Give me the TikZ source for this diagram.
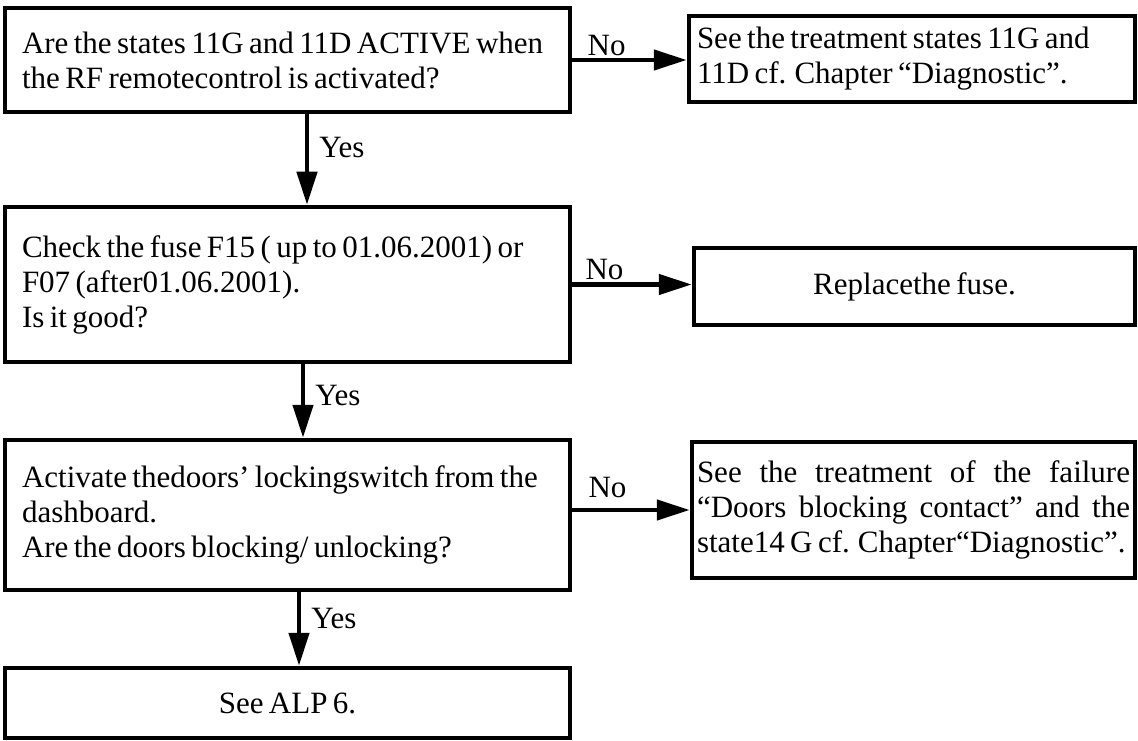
\documentclass[tikz,border=0pt]{standalone}
\usepackage{fontspec}
\setmainfont[WordSpace=0.7]{Liberation Serif}
\usepackage{tikz}
\usetikzlibrary{arrows.meta}

\tikzset{
  % keep the font's own (narrow) word space inside ragged boxes
  txt/.style={font=\fontsize{31}{35}\selectfont, execute at begin node={\spaceskip=0pt\xspaceskip=0pt}},
  qbox/.style={txt, draw, line width=4.5pt, inner xsep=17pt, text width=531pt, align=left},
  abox/.style={txt, draw, line width=4.5pt, inner xsep=6pt},
  flow/.style={line width=4.5pt, -{Triangle[length=33pt,width=20pt]}},
  lbl/.style={txt, inner sep=2pt}
}

\begin{document}
\begin{tikzpicture}[x=1pt, y=-1pt]
			%%%%% START %%%%%
			\useasboundingbox (0,0) rectangle (1138,741);
			
			% questions down the left side
			\node[qbox, minimum height=104pt] (q1) at (287.5,60) {Are the states 11G and 11D ACTIVE when\\the RF remotecontrol is activated?};
			\node[qbox, minimum height=155pt] (q2) at (287.5,284.5) {Check the fuse F15 ( up to 01.06.2001) or\\F07 (after01.06.2001).\\Is it good?};
			\node[qbox, minimum height=150pt] (q3) at (287.5,515) {Activate thedoors’ lockingswitch from the\\dashboard.\\Are the doors blocking/ unlocking?};
			\node[abox, minimum width=565pt, minimum height=70pt] (alp) at (287.5,703) {See ALP 6.};
			
			% answers on the right
			\node[abox, inner xsep=8pt, text width=430pt, align=left, minimum height=86pt] (r1) at (912,59) {See the treatment states 11G and\\11D cf. Chapter “Diagnostic”.};
			\node[abox, minimum width=441pt, minimum height=77pt] (r2) at (914.5,286.5) {Replacethe fuse.};
			\node[abox, text width=433pt, inner xsep=5pt, align=justify, minimum height=136pt] (r3) at (913.5,510) {\parfillskip=0pt See the treatment of the failure\linebreak “Doors blocking contact” and the\linebreak state14 G cf. Chapter“Diagnostic”.};
			
			% yes branches
			\draw[flow] ([xshift=19.5pt]q1.south) -- ([xshift=19.5pt]q2.north) node[lbl, right, pos=.37, xshift=8pt] {Yes};
			\draw[flow] ([xshift=15.5pt]q2.south) -- ([xshift=15.5pt]q3.north) node[lbl, right, pos=.42, xshift=8pt] {Yes};
			\draw[flow] ([xshift=11.5pt]q3.south) -- ([xshift=11.5pt]alp.north) node[lbl, right, pos=.36, xshift=8pt] {Yes};
			
			% no branches
			\draw[flow] (q1.east) -- (q1.east -| r1.west) node[lbl, above, pos=.3] {No};
			\draw[flow] (q2.east) -- (q2.east -| r2.west) node[lbl, above, pos=.27] {No};
			\draw[flow] (r3.west -| q3.east) -- (r3.west) node[lbl, above, pos=.3, yshift=8pt] {No};
			
			%%%%% END %%%%%
\end{tikzpicture}
\end{document}
